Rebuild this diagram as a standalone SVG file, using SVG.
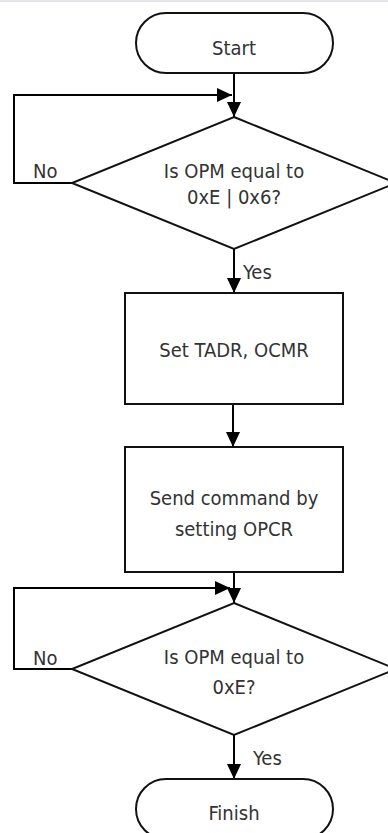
<svg xmlns="http://www.w3.org/2000/svg" width="388" height="833" viewBox="0 0 388 833">
<defs>
<marker id="ah" markerUnits="userSpaceOnUse" markerWidth="15" markerHeight="14" refX="15" refY="7" orient="auto">
<path d="M0,0 L15,7 L0,14 z" fill="#000"/>
</marker>
<style>
.shape{fill:#fff;stroke:#111;stroke-width:2}
.conn{fill:none;stroke:#000;stroke-width:2;marker-end:url(#ah)}
.t{font-family:"DejaVu Sans Condensed","DejaVu Sans",Verdana,sans-serif;font-stretch:semi-condensed;font-size:20px;fill:#333}
.c{text-anchor:middle}
</style>
</defs>
<rect x="0" y="0" width="388" height="833" fill="#fff"/>
<rect x="0" y="0" width="388" height="2" fill="#e4e4f0"/>
<g id="connectors">
<path class="conn" d="M234,73 V117"/>
<path class="conn" d="M72,183 H14 V95 H232"/>
<path class="conn" d="M234,249 V293"/>
<path class="conn" d="M233,404 V447"/>
<path class="conn" d="M234,572 V603"/>
<path class="conn" d="M72,669 H14 V588 H230"/>
<path class="conn" d="M234,735 V779"/>
<text class="t" x="33" y="178">No</text>
<text class="t" x="243" y="279">Yes</text>
<text class="t" x="33" y="665">No</text>
<text class="t" x="253" y="765">Yes</text>
</g>
<g id="start">
<rect class="shape" x="136" y="13" width="197" height="60" rx="30"/>
<text class="t c" x="234" y="55">Start</text>
</g>
<g id="check1">
<path class="shape" d="M234,117 L396,183 L234,249 L72,183 z"/>
<text class="t c" x="234" y="178">Is OPM equal to</text>
<text class="t c" x="234" y="204">0xE | 0x6?</text>
</g>
<g id="set">
<rect class="shape" x="125" y="293" width="218" height="111"/>
<text class="t c" x="234" y="357">Set TADR, OCMR</text>
</g>
<g id="send">
<rect class="shape" x="125" y="447" width="218" height="125"/>
<text class="t c" x="234" y="505">Send command by</text>
<text class="t c" x="234" y="536">setting OPCR</text>
</g>
<g id="check2">
<path class="shape" d="M234,603 L396,669 L234,735 L72,669 z"/>
<text class="t c" x="234" y="664">Is OPM equal to</text>
<text class="t c" x="234" y="694">0xE?</text>
</g>
<g id="finish">
<rect class="shape" x="136" y="779" width="197" height="60" rx="30"/>
<text class="t c" x="234" y="820">Finish</text>
</g>
</svg>
